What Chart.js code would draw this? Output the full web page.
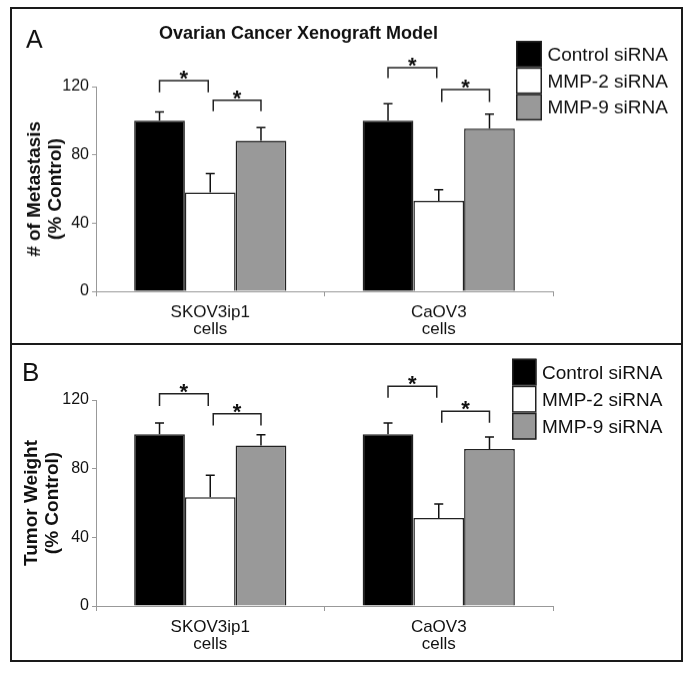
<!DOCTYPE html>
<html>
<head>
<meta charset="utf-8">
<title>Ovarian Cancer Xenograft Model</title>
<script src="https://cdn.jsdelivr.net/npm/chart.js@4.4.1/dist/chart.umd.min.js"></script>
<style>
    body { margin: 0; background: #fff; }
    #figura { position: absolute; left: 10px; top: 7px; width: 669px; border: 2px solid #1a1a1a; }
    #panelA { display: block; border-bottom: 2px solid #1a1a1a; }
    #panelB { display: block; }
</style>
</head>
<body>
<div id="figura">
    <canvas id="panelA" width="669" height="336"></canvas>
    <canvas id="panelB" width="669" height="315"></canvas>
</div>
<script>
const celulas = [['SKOV3ip1', 'cells'], ['CaOV3', 'cells']];
const grupos = ['Control siRNA', 'MMP-2 siRNA', 'MMP-9 siRNA'];
const colores = ['#000000', '#ffffff', '#999999'];
const ticksY = [0, 40, 80, 120];

// Panel A: # de metastasis (% control)
const metControl = [100, 100];
const metMMP2 = [58, 53];
const metMMP9 = [88.3, 95.4];
const errMetControl = [5.2, 10];
const errMetMMP2 = [11, 6.6];
const errMetMMP9 = [7.6, 8.5];
// corchetes de significancia: control vs MMP-2 y MMP-2 vs MMP-9
const metCorchete1Alto = [123.5, 131];
const metCorchete1Bajo = [116.7, 125];
const metCorchete2Alto = [112, 118.3];
const metCorchete2Bajo = [105.6, 111];

// Panel B: peso del tumor (% control)
const pesoControl = [100, 100];
const pesoMMP2 = [63.3, 51.2];
const pesoMMP9 = [93.5, 91.5];
const errPesoControl = [6.6, 6.6];
const errPesoMMP2 = [12.9, 8.2];
const errPesoMMP9 = [6.2, 7];
const pesoCorchete1Alto = [123.7, 128];
const pesoCorchete1Bajo = [116.5, 121.3];
const pesoCorchete2Alto = [112, 113.5];
const pesoCorchete2Bajo = [105.1, 106.7];

const fuente = '"Liberation Sans", Arial, Helvetica, sans-serif';

const erroresPlugin = {
    id: 'errores',
    afterDatasetsDraw(chart, args, opts) {
        const ctx = chart.ctx;
        const y = chart.scales.y;
        ctx.save();
        ctx.strokeStyle = '#111';
        ctx.lineWidth = 1.5;
        chart.data.datasets.forEach((ds, i) => {
            chart.getDatasetMeta(i).data.forEach((barra, j) => {
                const arriba = y.getPixelForValue(ds.data[j] + opts.valores[i][j]);
                ctx.beginPath();
                ctx.moveTo(barra.x, barra.y);
                ctx.lineTo(barra.x, arriba);
                ctx.moveTo(barra.x - 4.5, arriba);
                ctx.lineTo(barra.x + 4.5, arriba);
                ctx.stroke();
            });
        });
        ctx.restore();
    }
};

const corchetesPlugin = {
    id: 'corchetes',
    afterDraw(chart, args, opts) {
        const ctx = chart.ctx;
        const y = chart.scales.y;
        const m0 = chart.getDatasetMeta(0).data;
        const m1 = chart.getDatasetMeta(1).data;
        const m2 = chart.getDatasetMeta(2).data;
        const dibujar = (x1, x2, alto, bajo) => {
            const yA = y.getPixelForValue(alto);
            const yB = y.getPixelForValue(bajo);
            ctx.beginPath();
            ctx.moveTo(x1, yB);
            ctx.lineTo(x1, yA);
            ctx.lineTo(x2, yA);
            ctx.lineTo(x2, yB);
            ctx.stroke();
            ctx.fillText('*', (x1 + x2) / 2, yA + 5);
        };
        ctx.save();
        ctx.strokeStyle = '#222';
        ctx.lineWidth = 1.5;
        ctx.fillStyle = '#111';
        ctx.font = 'bold 22px ' + fuente;
        ctx.textAlign = 'center';
        ctx.textBaseline = 'alphabetic';
        m0.forEach((barra, j) => {
            dibujar(barra.x, m1[j].x - 2, opts.alto1[j], opts.bajo1[j]);
            dibujar(m1[j].x + 3, m2[j].x, opts.alto2[j], opts.bajo2[j]);
        });
        ctx.restore();
    }
};

const leyendaPlugin = {
    id: 'leyenda',
    afterDraw(chart, args, opts) {
        const ctx = chart.ctx;
        ctx.save();
        chart.data.datasets.forEach((ds, i) => {
            const top = opts.y + i * opts.alto;
            ctx.fillStyle = ds.backgroundColor;
            ctx.fillRect(opts.x, top, opts.ancho, opts.alto);
            ctx.strokeStyle = '#222';
            ctx.lineWidth = 1.5;
            ctx.strokeRect(opts.x + 0.75, top + 0.75, opts.ancho - 1.5, opts.alto - 1.5);
            ctx.fillStyle = '#111';
            ctx.font = '19px ' + fuente;
            ctx.textAlign = 'left';
            ctx.textBaseline = 'alphabetic';
            ctx.fillText(ds.label, opts.x + opts.ancho + 5.5, top + opts.alto / 2 + 6.5);
        });
        ctx.restore();
    }
};

const rotulosPlugin = {
    id: 'rotulos',
    afterDraw(chart, args, opts) {
        const ctx = chart.ctx;
        ctx.save();
        ctx.fillStyle = '#111';
        ctx.textBaseline = 'alphabetic';
        opts.textos.forEach(t => {
            ctx.font = t.font;
            ctx.textAlign = t.align;
            ctx.fillText(t.text, t.x, t.y);
        });
        ctx.restore();
    }
};

const crearPanel = (id, p) => {
    const ctx = document.getElementById(id).getContext('2d');
    return new Chart(ctx, {
        type: 'bar',
        data: {
            labels: celulas,
            datasets: p.series.map((serie, i) => ({
                label: grupos[i],
                data: serie,
                backgroundColor: colores[i],
                borderColor: '#222',
                borderWidth: 1.5,
                categoryPercentage: 0.666,
                barPercentage: 1
            }))
        },
        options: {
            responsive: false,
            animation: false,
            layout: { padding: { top: p.arriba, right: 128, left: 0, bottom: 0 } },
            plugins: {
                legend: { display: false },
                tooltip: { enabled: false },
                errores: { valores: p.errores },
                corchetes: p.corchetes,
                leyenda: p.leyenda,
                rotulos: { textos: p.textos }
            },
            scales: {
                x: {
                    afterFit: (scale) => { scale.height = p.altoX; },
                    grid: { display: true, drawOnChartArea: false, drawTicks: true, tickLength: 5, color: '#999', offset: true },
                    border: { display: true, color: '#999', width: 1 },
                    ticks: { color: '#111', padding: 8, font: { family: fuente, size: 17, lineHeight: 1.0 } }
                },
                y: {
                    min: 0,
                    max: 120,
                    afterFit: (scale) => { scale.width = 84; },
                    afterBuildTicks: (scale) => { scale.ticks = ticksY.map(v => ({ value: v })); },
                    grid: { display: true, drawOnChartArea: false, drawTicks: true, tickLength: 4, color: '#999' },
                    border: { display: true, color: '#999', width: 1 },
                    ticks: { color: '#111', padding: 3, font: { family: fuente, size: 16 } },
                    title: {
                        display: true,
                        text: p.tituloY,
                        color: '#111',
                        padding: { top: p.padTitulo, bottom: 0 },
                        font: { family: fuente, size: 19, weight: 'bold', lineHeight: 1.1 }
                    }
                }
            }
        },
        plugins: [erroresPlugin, corchetesPlugin, leyendaPlugin, rotulosPlugin]
    });
};

crearPanel('panelA', {
    series: [metControl, metMMP2, metMMP9],
    errores: [errMetControl, errMetMMP2, errMetMMP9],
    corchetes: { alto1: metCorchete1Alto, bajo1: metCorchete1Bajo, alto2: metCorchete2Alto, bajo2: metCorchete2Bajo },
    leyenda: { x: 504, y: 32, ancho: 26, alto: 26.7 },
    arriba: 78,
    altoX: 52,
    padTitulo: 12,
    tituloY: ['# of Metastasis', '(% Control)'],
    textos: [
        { text: 'A', x: 14, y: 38.5, font: '25px ' + fuente, align: 'left' },
        { text: 'Ovarian Cancer Xenograft Model', x: 286.5, y: 30, font: 'bold 18px ' + fuente, align: 'center' }
    ]
});

crearPanel('panelB', {
    series: [pesoControl, pesoMMP2, pesoMMP9],
    errores: [errPesoControl, errPesoMMP2, errPesoMMP9],
    corchetes: { alto1: pesoCorchete1Alto, bajo1: pesoCorchete1Bajo, alto2: pesoCorchete2Alto, bajo2: pesoCorchete2Bajo },
    leyenda: { x: 500, y: 13.7, ancho: 24.5, alto: 27 },
    arriba: 55,
    altoX: 54,
    padTitulo: 9,
    tituloY: ['Tumor Weight', '(% Control)'],
    textos: [
        { text: 'B', x: 10, y: 35.7, font: '26px ' + fuente, align: 'left' }
    ]
});
</script>
</body>
</html>
